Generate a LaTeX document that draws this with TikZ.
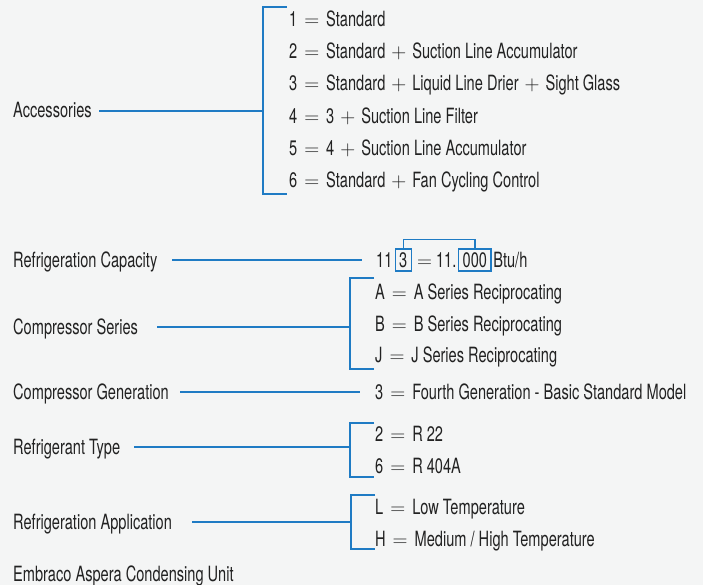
\documentclass[tikz,border=0pt]{standalone}
\usepackage{fontspec}
\setmainfont{TeX Gyre Heros}[FakeStretch=0.695]
\usepackage{xcolor}
\usepackage{tikz}
\usetikzlibrary{positioning}
\definecolor{paper}{HTML}{F4F5F5}
\definecolor{codeblue}{HTML}{1F7BC4}
\definecolor{ink}{HTML}{222222}
\newcommand\eqs{\hspace{7pt}$=$\hspace{7pt}}
\newcommand\pls{\hspace{6pt}$+$\hspace{6pt}}

\begin{document}
\begin{tikzpicture}[x=1pt,y=-1pt,
  every node/.style={inner sep=0pt,text=ink,text height=15.5pt,text depth=1.5pt,
    font=\fontsize{21}{24}\selectfont},
  lbl/.style={anchor=west},
  item/.style={anchor=west},
  link/.style={draw=codeblue,line width=1.4pt},
  digitbox/.style={draw=codeblue,line width=1.2pt,inner xsep=4pt,minimum height=22pt}]
  \useasboundingbox[fill=paper] (0,0) rectangle (703,585);
  \def\lx{13};
  % left hand labels
  \node[lbl] (acc) at (\lx,111) {Accessories};
  \node[lbl] (cap) at (\lx,260) {Refrigeration Capacity};
  \node[lbl] (ser) at (\lx,327) {Compressor Series};
  \node[lbl] (gen) at (\lx,392) {Compressor Generation};
  \node[lbl] (typ) at (\lx,447) {Refrigerant Type};
  \node[lbl] (app) at (\lx,522) {Refrigeration Application};
  \node[lbl] (emb) at (\lx,574) {Embraco Aspera Condensing Unit};

  % line starts and bracket corners
  \coordinate (acc-l) at (99,111);  \coordinate (acc-br) at (263,111);
  \coordinate (cap-l) at (172,260); \coordinate (cap-br) at (362,260);
  \coordinate (ser-l) at (157,327); \coordinate (ser-br) at (350,327);
  \coordinate (gen-l) at (180,392); \coordinate (gen-br) at (360,392);
  \coordinate (typ-l) at (134,447); \coordinate (typ-br) at (350,447);
  \coordinate (app-l) at (192,522); \coordinate (app-br) at (351,522);

  % accessories
  \node[item] (acc1) at (289,20) {1\eqs Standard};
  \node[item] (acc2) at (289,52) {2\eqs Standard\pls Suction Line Accumulator};
  \node[item] (acc3) at (289,84) {3\eqs Standard\pls Liquid Line Drier\pls Sight Glass};
  \node[item] (acc4) at (289,117) {4\eqs 3\pls Suction Line Filter};
  \node[item] (acc5) at (289,149) {5\eqs 4\pls Suction Line Accumulator};
  \node[item] (acc6) at (289,181) {6\eqs Standard\pls Fan Cycling Control};

  % capacity code
  \node[item] (cap11) at (376,260) {11};
  \node[digitbox,right=2pt of cap11] (cap3) {3};
  \node[right=5pt of cap3] (capeq) {$=$\hspace{4pt}11.};
  \node[digitbox,right=1.5pt of capeq] (cap000) {000};
  \node[right=1.5pt of cap000] (capunit) {Btu/h};

  % series, generation, refrigerant, application
  \node[item] (serA) at (375,292) {A\eqs A Series Reciprocating};
  \node[item] (serB) at (375,324) {B\eqs B Series Reciprocating};
  \node[item] (serJ) at (375,355) {J\eqs J Series Reciprocating};
  \node[item] (gen3) at (375,392) {3\eqs Fourth Generation - Basic Standard Model};
  \node[item] (typ2) at (375,434) {2\eqs R 22};
  \node[item] (typ6) at (375,466) {6\eqs R 404A};
  \node[item] (appL) at (375,507) {L\eqs Low Temperature};
  \node[item] (appH) at (375,539) {H\eqs Medium / High Temperature};

  \draw[link] (acc-l) -- (acc-br);
  \draw[link] (cap-l) -- (cap-br);
  \draw[link] (ser-l) -- (ser-br);
  \draw[link] (gen-l) -- (gen-br);
  \draw[link] (typ-l) -- (typ-br);
  \draw[link] (app-l) -- (app-br);

  \draw[link] ([xshift=-2pt,yshift=13pt]acc1.west) -| (acc-br) |- ([xshift=-2pt,yshift=-13pt]acc6.west);
  \draw[link] ([xshift=-1pt,yshift=14pt]serA.west) -| (ser-br) |- ([xshift=-1pt,yshift=-14pt]serJ.west);
  \draw[link] ([xshift=-1pt,yshift=11pt]typ2.west) -| (typ-br) |- ([xshift=-1pt,yshift=-11pt]typ6.west);
  \draw[link] ([xshift=0pt,yshift=12pt]appL.west) -| (app-br) |- ([xshift=0pt,yshift=-10pt]appH.west);

  \draw[link] (cap3.north) -- ([yshift=9pt]cap3.north) -| (cap000.north);
\end{tikzpicture}
\end{document}
